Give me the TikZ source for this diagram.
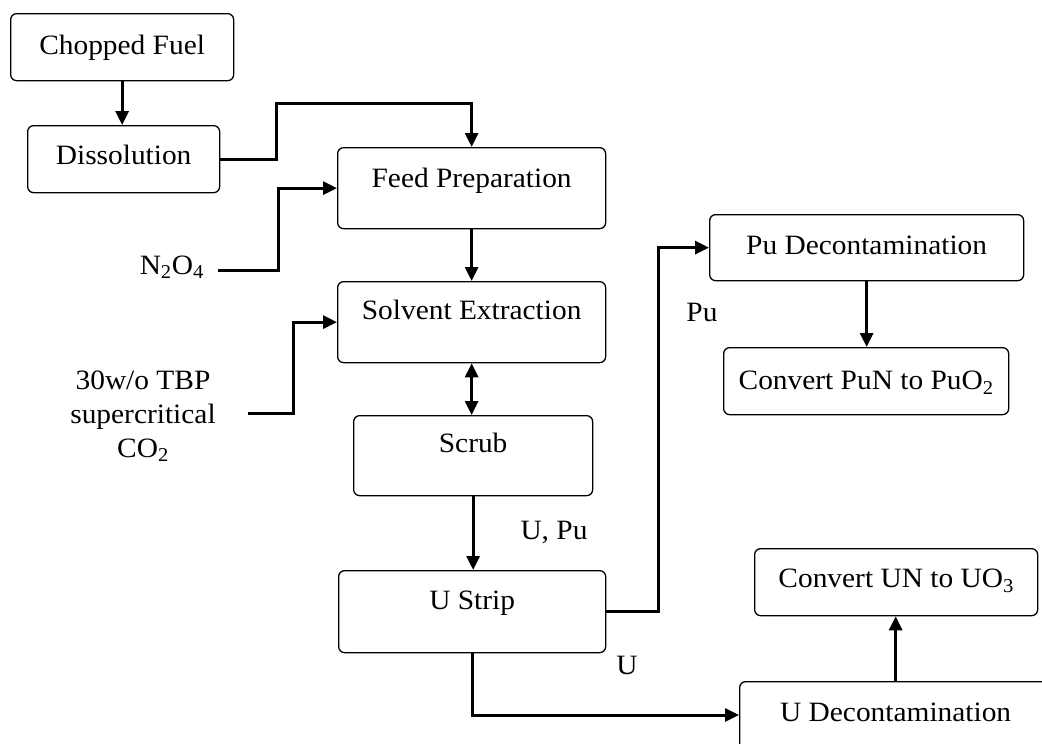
\documentclass[tikz,border=0pt]{standalone}
\usepackage{fontspec}
\setmainfont[FakeStretch=1.05]{Liberation Serif}
\usetikzlibrary{arrows.meta}
\tikzset{
  box/.style={draw, line width=1.3pt, rounded corners=6pt, inner xsep=0pt, inner ysep=0pt,
    anchor=north west, font=\fontsize{28}{34}\selectfont},
  lbl/.style={inner sep=0pt, font=\fontsize{28}{34}\selectfont},
  arr/.style={line width=3pt, -{Triangle[length=14pt,width=13pt]}},
  darr/.style={line width=3pt, {Triangle[length=14pt,width=13pt]}-{Triangle[length=14pt,width=13pt]}}
}
\begin{document}
\begin{tikzpicture}[x=1pt,y=-1pt]
\useasboundingbox (0,0) rectangle (1042,744);
\fill[white] (0,0) rectangle (1042,744);
% boxes
\node[box, minimum width=223pt, text height=41pt, text depth=26pt] (cf) at (10,13) {Chopped Fuel};
\node[box, minimum width=192pt, text height=39pt, text depth=28pt] (dis) at (27,125) {Dissolution};
\node[box, minimum width=268pt, text height=40pt, text depth=41pt] (feed) at (337,147) {Feed Preparation};
\node[box, minimum width=268pt, text height=38pt, text depth=43pt] (se) at (337,281) {Solvent Extraction};
\node[box, minimum width=239pt, text height=37pt, text depth=43pt] (scrub) at (353,415) {Scrub};
\node[box, minimum width=267pt, text height=39pt, text depth=43pt] (us) at (338,570) {U Strip};
\node[box, minimum width=314pt, text height=40pt, text depth=26pt] (pud) at (709,214) {Pu Decontamination};
\node[box, minimum width=285pt, text height=42pt, text depth=25pt] (pun) at (723,347) {Convert PuN to PuO\textsubscript{2}};
\node[box, minimum width=283pt, text height=39pt, text depth=28pt] (cun) at (754,548) {Convert UN to UO\textsubscript{3}};
\node[box, minimum width=312pt, text height=40pt, text depth=60pt] (ud) at (739,681) {U Decontamination};
% labels
\node[lbl, anchor=east, inner xsep=14pt, text height=20pt, text depth=12pt] (n2o4) at (218,270) {N\textsubscript{2}O\textsubscript{4}};
\node[lbl, align=center] (tbp) at (143,416) {30w/o TBP\\supercritical\\CO\textsubscript{2}};
\node[lbl] (pu) at (702,312) {Pu};
\node[lbl] (upu) at (554,532) {U, Pu};
\node[lbl] (u) at (627,665) {U};
% junction coordinates
\coordinate (j1) at (276,103);
\coordinate (j2) at (278,0);
\coordinate (j3) at (293,0);
\coordinate (j4) at (658,0);
% connectors
\draw[arr] (cf.south) -- (cf.south |- dis.north);
\draw[arr] (dis.east) -| (j1) -| (feed.north);
\draw[arr] (n2o4.east) -| (feed.west -| j2) -- (feed.west);
\draw[arr] ([xshift=32pt,yshift=3pt]tbp.east) -| (se.west -| j3) -- (se.west);
\draw[arr] (feed.south) -- (se.north);
\draw[darr] (se.south) -- (se.south |- scrub.north);
\draw[arr] (scrub.south) -- (scrub.south |- us.north);
\draw[arr] (us.east) -| (pud.west -| j4) -- (pud.west);
\draw[arr] (pud.south) -- (pud.south |- pun.north);
\draw[arr] (us.south) |- ([yshift=-34pt]ud.north west);
\draw[arr] (ud.north) -- (ud.north |- cun.south);
\end{tikzpicture}
\end{document}
